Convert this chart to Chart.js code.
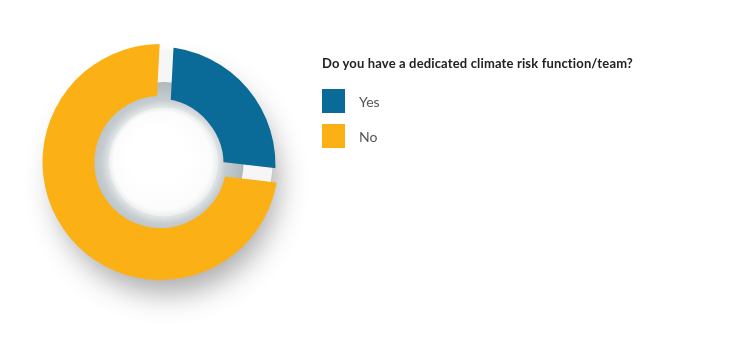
<!DOCTYPE html>
<html>
<head>
<meta charset="utf-8">
<script src="https://cdn.jsdelivr.net/npm/chart.js@4.4.1/dist/chart.umd.min.js"></script>
<style>
  html, body { margin: 0; padding: 0; background: #fff; }
  body { width: 745px; height: 363px; position: relative; overflow: hidden; font-family: "Lato", "Open Sans", sans-serif; }
  #wrap { position: absolute; left: 0; top: 0; width: 330px; height: 363px; }
  #legend { position: absolute; left: 322px; top: 55px; }
  #legend h3 { margin: 0 0 18px 0; font-size: 13px; font-weight: 700; color: #222; letter-spacing: 0.15px; }
  .item { display: flex; align-items: center; height: 24px; margin-bottom: 11px; }
  .sw { width: 23px; height: 24px; margin-right: 14px; }
  .lab { font-size: 14px; color: #555; }
</style>
</head>
<body>
<div id="wrap"><canvas id="c"></canvas></div>
<div id="legend"></div>
<script>
// survey answers (share of respondents, %)
var question = "Do you have a dedicated climate risk function/team?";
var answers = ["Yes", "No"];
var shares = [26, 74];
var colours = ["#0a6a98", "#fbb116"];

// legend is plain html beside the canvas so it can sit where the original has it
(function () {
  var box = document.getElementById("legend");
  var h = document.createElement("h3");
  h.textContent = question;
  box.appendChild(h);
  answers.forEach(function (a, i) {
    var row = document.createElement("div");
    row.className = "item";
    row.innerHTML = '<div class="sw" style="background:' + colours[i] + '"></div><span class="lab"></span>';
    row.querySelector(".lab").textContent = a;
    box.appendChild(row);
  });
})();

var GAP = 14; // width of the straight cut between slices, px

// ringBackdrop paints the drop shadow under the donut and the grey bevel ring
// that shows through the hole and the gaps, using the arc geometry Chart.js laid out.
var ringBackdrop = {
  id: "ringBackdrop",
  beforeDatasetsDraw: function (chart) {
    var arc = chart.getDatasetMeta(0).data[1];
    if (!arc) return;
    var ctx = chart.ctx, x = arc.x, y = arc.y;
    var outer = arc.outerRadius, inner = arc.innerRadius;
    ctx.save();
    ctx.shadowColor = "rgba(60,60,60,0.42)";
    ctx.shadowBlur = 28;
    ctx.shadowOffsetX = 6;
    ctx.shadowOffsetY = 20;
    ctx.beginPath();
    ctx.arc(x, y, outer - 6, 0, Math.PI * 2);
    ctx.fillStyle = "#f6f6f6";
    ctx.fill();
    ctx.restore();

    var ringOuter = inner + 14, ringInner = inner * 0.82;
    var hx = x + 3;
    ctx.save();
    var g = ctx.createRadialGradient(hx, y, ringInner, hx, y, ringOuter);
    g.addColorStop(0, "#e2e6e7");
    g.addColorStop(0.3, "#c6cdd0");
    g.addColorStop(1, "#afb8bc");
    ctx.beginPath();
    ctx.arc(hx, y, ringOuter, 0, Math.PI * 2);
    ctx.arc(hx, y, ringInner, 0, Math.PI * 2, true);
    ctx.fillStyle = g;
    ctx.fill();
    var w = ctx.createRadialGradient(hx - 6, y - 6, ringInner * 0.5, hx, y, ringInner);
    w.addColorStop(0, "#ffffff");
    w.addColorStop(0.8, "#fcfcfc");
    w.addColorStop(1, "#eceeef");
    ctx.beginPath();
    ctx.arc(hx, y, ringInner, 0, Math.PI * 2);
    ctx.fillStyle = w;
    ctx.fill();
    ctx.restore();
  },
  // cut a straight, even-width gap at every slice boundary
  beforeDatasetDraw: function (chart, args) {
    var arcs = chart.getDatasetMeta(args.index).data;
    var ctx = chart.ctx, a0 = arcs[1];
    ctx.save();
    ctx.beginPath();
    ctx.rect(0, 0, chart.width, chart.height);
    arcs.forEach(function (arc) {
      var t = arc.startAngle, dx = Math.cos(t), dy = Math.sin(t);
      var nx = -dy * GAP / 2, ny = dx * GAP / 2;
      var r0 = a0.innerRadius * 0.5, r1 = a0.outerRadius + 30;
      var sx = a0.x + dx * r0, sy = a0.y + dy * r0, ex = a0.x + dx * r1, ey = a0.y + dy * r1;
      ctx.moveTo(sx + nx, sy + ny);
      ctx.lineTo(ex + nx, ey + ny);
      ctx.lineTo(ex - nx, ey - ny);
      ctx.lineTo(sx - nx, sy - ny);
      ctx.closePath();
    });
    ctx.clip("evenodd");
  },
  afterDatasetDraw: function (chart) {
    chart.ctx.restore();
  }
};

new Chart(document.getElementById("c"), {
  type: "doughnut",
  data: {
    labels: answers,
    datasets: [{
      data: shares,
      backgroundColor: colours,
      borderWidth: 0,
      hoverOffset: 0,
      offset: [-16, 0]
    }]
  },
  options: {
    responsive: true,
    maintainAspectRatio: false,
    animation: false,
    rotation: 3,
    cutout: "56%",
    layout: { padding: { left: 42, top: 44, right: 51, bottom: 83 } },
    plugins: {
      legend: { display: false },
      tooltip: { enabled: false }
    }
  },
  plugins: [ringBackdrop]
});
</script>
</body>
</html>
